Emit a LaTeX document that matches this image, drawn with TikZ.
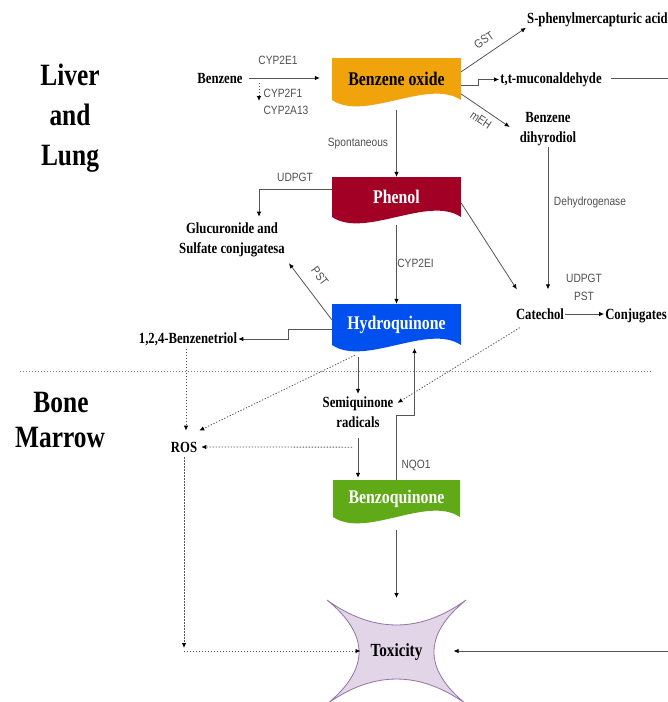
\documentclass[tikz,border=0pt]{standalone}
\usepackage{fontspec}
\setmainfont{Liberation Serif}[FakeStretch=0.82]
\newfontfamily\lblfont{Liberation Sans}[FakeStretch=0.85]
\usetikzlibrary{arrows.meta,calc}
\definecolor{lc}{HTML}{555555}
\definecolor{lblc}{HTML}{505050}
\definecolor{cOrange}{HTML}{F0A30A}
\definecolor{cRed}{HTML}{A20025}
\definecolor{cBlue}{HTML}{0050EF}
\definecolor{cGreen}{HTML}{60A917}
\definecolor{cToxF}{HTML}{E1D5E7}
\definecolor{cToxD}{HTML}{9673A6}
\definecolor{sepc}{HTML}{808080}
\newcommand\wavefill[5]{\fill[#1] (#2,#3) -- (#4,#3) -- (#4,#5) .. controls ({#4-33},{#5-22}) and ({#2+33},{#5+22}) .. (#2,#5) -- cycle;}
\begin{document}
\begin{tikzpicture}[x=1pt,y=-1pt,
  bt/.style={font=\fontsize{15.5}{20}\selectfont\bfseries, text=black, inner sep=1pt},
  region/.style={font=\fontsize{31}{41}\selectfont\bfseries, inner sep=0pt},
  boxt/.style={font=\fontsize{19.3}{23}\selectfont\bfseries, minimum width=129pt, inner sep=0pt},
  lbl/.style={font=\lblfont\fontsize{12}{18}\selectfont, text=lblc, inner sep=0.5pt},
  ar/.style={draw=lc, line width=0.8pt, -{Latex[length=5pt,width=4.5pt,color=black]}},
  ln/.style={draw=lc, line width=0.8pt},
  dot/.style={ar, dash pattern=on 1.3pt off 1.7pt},
  sepline/.style={draw=sepc, line width=1pt, dash pattern=on 1.3pt off 1.7pt},
]
\useasboundingbox (0,0) rectangle (668,702);
\fill[white] (0,0) rectangle (668,702);

% region labels
\node[region, anchor=base] (rl1) at (70,85) {Liver};
\node[region, anchor=base] (rl2) at (70,125) {and};
\node[region, anchor=base] (rl3) at (70,165) {Lung};
\node[region, anchor=base] (rb1) at (61,412) {Bone};
\node[region, anchor=base] (rb2) at (60,447) {Marrow};

% separator
\coordinate (sepL) at (20,371);
\coordinate (sepR) at (653,371);
\draw[sepline] (sepL) -- (sepR);

% wave boxes
\wavefill{cOrange}{332}{58}{461}{100}
\node[boxt, minimum height=42pt] (bo) at (396.5,79) {Benzene oxide};
\wavefill{cRed}{332}{177}{461}{217}
\node[boxt, minimum height=40pt, text=white] (ph) at (396.5,197) {Phenol};
\wavefill{cBlue}{332}{304}{461}{345}
\node[boxt, minimum height=41pt, text=white] (hq) at (396.5,324.5) {Hydroquinone};
\wavefill{cGreen}{333}{480}{460}{517}
\node[boxt, minimum height=37pt, text=white] (bq) at (396.5,498.5) {Benzoquinone};

% toxicity star
\filldraw[fill=cToxF, draw=cToxD, line width=0.8pt]
  (327,600) .. controls (373.2,633.3) and (419.8,633.3) .. (466,600)
  .. controls (423.3,634.7) and (423.3,669.3) .. (466,704)
  .. controls (419.8,670.7) and (373.2,670.7) .. (327,704)
  .. controls (369.7,669.3) and (369.7,634.7) .. (327,600) -- cycle;
\node[font=\fontsize{18.5}{22}\selectfont\bfseries, inner sep=0pt] (tox) at (396.5,652) {Toxicity};

% plain text nodes
\node[bt] (benz) at (220,78) {Benzene};
\node[bt] (spma) at (597.5,19.5) {S-phenylmercapturic acid};
\node[bt] (muc) at (551,79.5) {t,t-muconaldehyde};
\node[bt, align=center] (diol) at (548,129.5) {Benzene\\dihyrodiol};
\node[bt, align=center] (gluc) at (232,239.5) {Glucuronide and\\Sulfate conjugatesa};
\node[bt] (cat) at (540,314) {Catechol};
\node[bt] (conj) at (636,315.5) {Conjugates};
\node[bt] (triol) at (188,339) {1,2,4-Benzenetriol};
\node[bt] (ros) at (184,447) {ROS};
\node[bt, align=center] (semi) at (358,412.5) {Semiquinone\\radicals};

% gray labels
\node[lbl] (lcyp1) at (278,60) {CYP2E1};
\node[lbl] (lcyp2) at (283,93) {CYP2F1};
\node[lbl] (lcyp3) at (286,110) {CYP2A13};
\node[lbl, rotate=34] (lgst) at (484,40) {GST};
\node[lbl, rotate=-34] (lmeh) at (481,120) {mEH};
\node[lbl] (lspon) at (358,144) {Spontaneous};
\node[lbl] (ldeh) at (590,202) {Dehydrogenase};
\node[lbl] (ludp1) at (295,177) {UDPGT};
\node[lbl] (lcyp4) at (415.5,263) {CYP2EI};
\node[lbl, rotate=-53] (lpst) at (320,276) {PST};
\node[lbl, align=center] (ludp2) at (584,287) {UDPGT\\PST};
\node[lbl] (lnqo) at (416,465) {NQO1};

% connectors
\draw[ar] ($(benz.east)+(5,0)$) -- ($(bo.west)+(-12,-1)$);
\coordinate (cypA) at (259,83);
\coordinate (cypB) at (259,101);
\draw[dot] (cypA) -- (cypB);
\draw[ar] ($(bo.north east)+(0,14)$) -- (spma.south west);
\draw[ar] ($(bo.east)+(0,6)$) -- ++(17,0) |- (muc.west);
\coordinate (redgeA) at (670,78);
\draw[ln] ($(muc.east)+(8,-1.5)$) -- (redgeA);
\draw[ar] ($(bo.east)+(0,15)$) -- ($(diol.west)+(-9,-2.5)$);
\draw[ar] ($(bo.south)+(0,10)$) -- (ph.north);
\draw[ar] (diol.south) -- ($(diol.south |- cat.north)+(0,-18)$);
\draw[ar] ($(ph.west)+(0,-8)$) -| ($(gluc.north)+(27,-4.5)$);
\draw[ar] ($(ph.south)+(0,8)$) -- (hq.north);
\draw[ar] ($(ph.east)+(0,6)$) -- ($(cat.north west)+(2,-18)$);
\draw[ar] (cat.east) -- (cat.east -| conj.west);
\draw[ar] ($(hq.north west)+(0,16)$) -- ($(gluc.south east)+(3,5.5)$);
\draw[ar] ($(hq.west)+(0,5)$) -- ++(-43,0) |- (triol.east);
\draw[dot] ($(triol.south)+(-2,2)$) -- ($(ros.north)+(2,-10)$);
\draw[dot] ($(hq.south)+(-41.5,10)$) -- ($(ros.north east)+(1,-10)$);
\draw[ar] ($(semi.north |- hq.south)+(0,12)$) -- ($(semi.north)+(0,-2)$);
\draw[dot] ($(cat.south west)+(5,7)$) -- ($(semi.north east)+(3,7)$);
\draw[dot] ($(semi.south)+(-6,18)$) -- ($(ros.east)+(3,0)$);
\draw[ar] ($(semi.south)+(0,9)$) -- ($(semi.south |- bq.north)+(0,-2)$);
\draw[ar] (bq.north) -- ++(0,-64) -- ++(18,0) -- ($(hq.south)+(18,3)$);
\draw[ar] ($(bq.south)+(0,13)$) -- ($(tox.center)+(0,-54)$);
\coordinate (rc) at (184,651);
\draw[dot] ($(ros.south)+(0,4)$) -- ($(rc)+(0,-3)$);
\draw[dot] (rc) -- ($(tox.center)+(-36,-1)$);
\coordinate (redgeB) at (670,651);
\draw[ar] (redgeB) -- ($(tox.center)+(57,-1)$);
\end{tikzpicture}
\end{document}
